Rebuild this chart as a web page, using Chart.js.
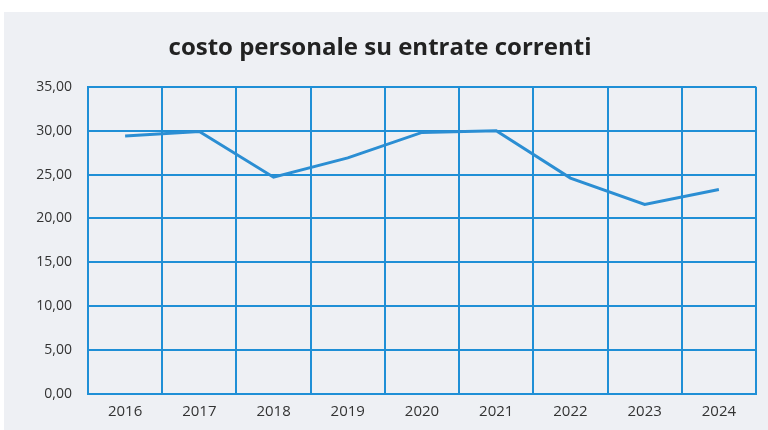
<!DOCTYPE html>
<html>
<head>
<meta charset="utf-8">
<script src="https://cdn.jsdelivr.net/npm/chart.js@4/dist/chart.umd.min.js"></script>
<style>
  html, body { margin: 0; padding: 0; background: #ffffff; }
  #wrap { position: absolute; left: 4px; top: 12px; width: 764px; height: 418px; background: #eef0f4; }
  #myChart { display: block; }
</style>
</head>
<body>
<div id="wrap"><canvas id="myChart" width="764" height="418"></canvas></div>
<script>
const years = ["2016", "2017", "2018", "2019", "2020", "2021", "2022", "2023", "2024"];
const costoPersonale = [29.4, 29.9, 24.7, 26.9, 29.8, 30.0, 24.6, 21.6, 23.3];
const yTicks = [0, 5, 10, 15, 20, 25, 30, 35];

const blue = "#1f8fd6";

new Chart("myChart", {
    type: "line",
    data: {
        labels: years,
        datasets: [{
            data: costoPersonale,
            borderColor: "#2b8ed3",
            borderWidth: 3,
            pointRadius: 0,
            fill: false,
            tension: 0
        }]
    },
    options: {
        responsive: false,
        animation: false,
        layout: { padding: { left: 0, right: 12, top: 0, bottom: 0 } },
        plugins: {
            legend: { display: false },
            tooltip: { enabled: false },
            title: {
                display: true,
                text: "costo personale su entrate correnti",
                color: "#222222",
                font: { family: "Open Sans", size: 24, weight: "bold" },
                padding: { top: 22, bottom: 24 }
            }
        },
        scales: {
            x: {
                offset: true,
                grid: { offset: true, color: blue, lineWidth: 2, drawTicks: false },
                border: { color: blue, width: 2 },
                ticks: { color: "#333333", font: { family: "Open Sans", size: 15 }, padding: 9 }
            },
            y: {
                min: 0,
                max: 35,
                afterBuildTicks: function(scale) {
                    scale.ticks = yTicks.map(v => ({ value: v }));
                },
                afterFit: function(scale) { scale.width = 84; },
                grid: { color: blue, lineWidth: 2, drawTicks: false },
                border: { color: blue, width: 2 },
                ticks: {
                    color: "#333333",
                    font: { family: "Open Sans", size: 14 },
                    padding: 16,
                    callback: function(v) { return v.toFixed(2).replace(".", ","); }
                }
            }
        }
    }
});
</script>
</body>
</html>
